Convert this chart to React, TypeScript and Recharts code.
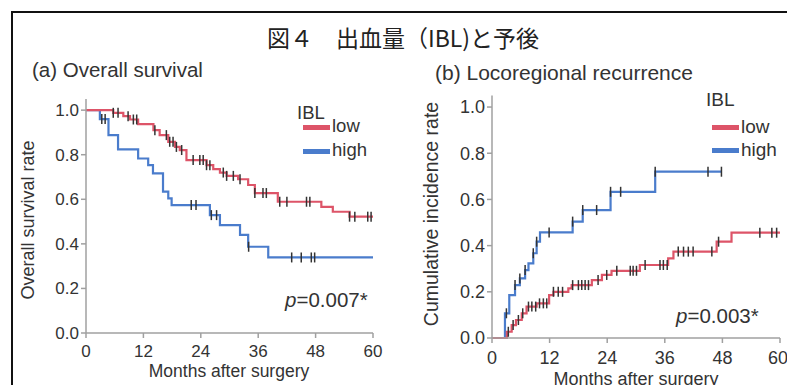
import { ComposedChart, Line, Scatter, XAxis, YAxis } from "recharts";

// months after surgery / survival rate (step points)
const osLowT = [0, 5.7, 7.8, 9.2, 10.9, 14.1, 15.4, 17.2, 18.6, 19.6, 21, 25.2, 26.6, 28, 29.4, 31.8, 33.9, 35.3, 40.1, 49.2, 51.6, 55.1, 60];
const osLowS = [1, 0.988, 0.973, 0.958, 0.937, 0.91, 0.888, 0.858, 0.835, 0.821, 0.776, 0.753, 0.735, 0.72, 0.705, 0.69, 0.664, 0.628, 0.589, 0.566, 0.544, 0.522, 0.522];
const osHighT = [0, 2.9, 4.7, 6.7, 10.9, 13, 14, 16.1, 17.2, 17.9, 25.9, 28, 32.2, 33.9, 38.1, 60];
const osHighS = [1, 0.96, 0.888, 0.824, 0.783, 0.753, 0.716, 0.634, 0.604, 0.574, 0.529, 0.484, 0.44, 0.387, 0.339, 0.339];
const osLowCensor = [5.7, 6.7, 8.8, 9.9, 10.6, 14.4, 16.8, 17.5, 18.2, 18.9, 20, 22.4, 23.8, 24.5, 25.2, 25.9, 28.7, 29.4, 30.8, 32.2, 35.3, 37, 37.7, 40.5, 42, 46.1, 46.8, 55.1, 56.2, 58.9, 59.6];
const osHighCensor = [3.3, 4, 22, 23, 26.2, 27.3, 34, 43, 45, 47.1, 47.8];

// cumulative incidence of locoregional recurrence
const lrLowT = [0, 3.1, 4.1, 5, 6.2, 7.2, 9.3, 11.9, 12.8, 15.9, 16.6, 20.8, 22.9, 24.9, 30.8, 36.7, 37.8, 46.8, 49.9, 60];
const lrLowC = [0, 0.027, 0.056, 0.078, 0.107, 0.136, 0.15, 0.186, 0.2, 0.215, 0.229, 0.251, 0.273, 0.291, 0.316, 0.345, 0.374, 0.417, 0.456, 0.456];
const lrHighT = [0, 2.7, 3.6, 4.8, 5.8, 6.9, 7.6, 8.6, 9.3, 10, 16.8, 18.9, 24.7, 34, 47.8];
const lrHighC = [0, 0.107, 0.186, 0.229, 0.258, 0.294, 0.323, 0.367, 0.417, 0.457, 0.504, 0.554, 0.633, 0.72, 0.72];
const lrLowCensor = [3.4, 4.4, 5.5, 6.4, 7.6, 8.3, 9.1, 9.9, 10.7, 11.4, 12.8, 13.8, 14.7, 16.8, 18, 18.7, 19.4, 20.1, 22.1, 23.9, 26, 28.8, 29.4, 30.1, 31.9, 35, 35.7, 36.5, 38.8, 39.9, 40.9, 41.9, 45.8, 47.2, 55.8, 58.3, 59.3];
const lrHighCensor = [3, 4.8, 5.8, 6.9, 8.6, 9.3, 11.9, 16.8, 18.9, 21.8, 24.7, 26.8, 34, 45, 47.8];

const monthTicks = [0, 12, 24, 36, 48, 60];
const rateTicks = [0, 0.2, 0.4, 0.6, 0.8, 1.0];

const RED = "#dd5468";
const BLUE = "#4a7ccc";
const INK = "#333";
const AXIS = "#a0a0a0";
const FONT = "'Liberation Sans', Arial, sans-serif";

const toRows = (t: number[], v: number[]) => t.map((x, i) => ({ t: x, v: v[i] }));

function stepAt(t: number[], v: number[], x: number) {
  let out = v[0];
  for (let i = 0; i < t.length; i++) if (t[i] <= x) out = v[i];
  return out;
}

const censorRows = (c: number[], t: number[], v: number[]) => c.map((x) => ({ t: x, v: stepAt(t, v, x) }));

const CensorMark = (props: any) => {
  const { cx, cy } = props;
  if (cx == null || cy == null) return null;
  return <line x1={cx} x2={cx} y1={cy - 5} y2={cy + 5} stroke={INK} strokeWidth={1.5} />;
};

function KMPanel({
  width,
  yAxisWidth,
  marginTop,
  marginRight,
  xAxisHeight,
  tickMargin,
  fontSize,
  low,
  high,
  lowCensor,
  highCensor,
}: {
  width: number;
  yAxisWidth: number;
  marginTop: number;
  marginRight: number;
  xAxisHeight: number;
  tickMargin: number;
  fontSize: number;
  low: { t: number; v: number }[];
  high: { t: number; v: number }[];
  lowCensor: { t: number; v: number }[];
  highCensor: { t: number; v: number }[];
}) {
  const tickStyle = { fill: INK, fontSize, fontFamily: FONT };
  return (
    <ComposedChart width={width} height={385} margin={{ top: marginTop, right: marginRight, bottom: 0, left: 0 }}>
      <XAxis
        dataKey="t"
        type="number"
        domain={[0, 60]}
        ticks={monthTicks}
        allowDuplicatedCategory={false}
        stroke={AXIS}
        strokeWidth={1.5}
        tickSize={5}
        tickMargin={tickMargin}
        height={xAxisHeight}
        tick={tickStyle}
      />
      <YAxis
        type="number"
        domain={[0, 1.05]}
        ticks={rateTicks}
        tickFormatter={(v: number) => v.toFixed(1)}
        stroke={AXIS}
        strokeWidth={1.5}
        tickSize={5}
        tickMargin={2}
        width={yAxisWidth}
        tick={tickStyle}
      />
      <Line data={high} dataKey="v" type="stepAfter" stroke={BLUE} strokeWidth={2.2} dot={false} isAnimationActive={false} />
      <Line data={low} dataKey="v" type="stepAfter" stroke={RED} strokeWidth={2.2} dot={false} isAnimationActive={false} />
      <Scatter data={highCensor} dataKey="v" shape={CensorMark} isAnimationActive={false} />
      <Scatter data={lowCensor} dataKey="v" shape={CensorMark} isAnimationActive={false} />
    </ComposedChart>
  );
}

const abs = (left: number, top: number, extra: any = {}) => ({
  position: "absolute" as const,
  left,
  top,
  whiteSpace: "nowrap" as const,
  color: INK,
  fontFamily: FONT,
  lineHeight: 1,
  ...extra,
});

function Legend({ left, titleTop, lowY, highY, size }: { left: number; titleTop: number; lowY: number; highY: number; size: number }) {
  const half = size * 0.55;
  return (
    <>
      <div style={abs(left, titleTop, { fontSize: size })}>IBL</div>
      <div style={abs(left + 6, lowY - 2.5, { width: 27, height: 5, background: RED })} />
      <div style={abs(left + 35, lowY - half, { fontSize: size })}>low</div>
      <div style={abs(left + 6, highY - 2.5, { width: 27, height: 5, background: BLUE })} />
      <div style={abs(left + 35, highY - half, { fontSize: size })}>high</div>
    </>
  );
}

export default function App() {
  return (
    <div style={{ position: "absolute", left: 0, top: 0, width: 787, height: 385, overflow: "hidden", background: "#fff" }}>
      <div style={{ position: "absolute", left: 11, top: 11, width: 800, height: 400, border: "2px solid #111" }} />
      <div
        style={abs(403, 37, {
          transform: "translate(-50%, -50%)",
          fontFamily: "'Noto Sans CJK JP', sans-serif",
          fontSize: 23,
          color: "#222",
        })}
      >
        図４　出血量（IBL)と予後
      </div>

      <div style={{ position: "absolute", left: 0, top: 0 }}>
        <KMPanel
          width={400}
          yAxisWidth={86}
          marginTop={99}
          marginRight={27}
          xAxisHeight={52}
          tickMargin={7}
          fontSize={17}
          low={toRows(osLowT, osLowS)}
          high={toRows(osHighT, osHighS)}
          lowCensor={censorRows(osLowCensor, osLowT, osLowS)}
          highCensor={censorRows(osHighCensor, osHighT, osHighS)}
        />
      </div>
      <div style={{ position: "absolute", left: 390, top: 0 }}>
        <KMPanel
          width={397}
          yAxisWidth={102}
          marginTop={95.5}
          marginRight={7}
          xAxisHeight={47}
          tickMargin={8}
          fontSize={18}
          low={toRows(lrLowT, lrLowC)}
          high={toRows(lrHighT, lrHighC)}
          lowCensor={censorRows(lrLowCensor, lrLowT, lrLowC)}
          highCensor={censorRows(lrHighCensor, lrHighT, lrHighC)}
        />
      </div>

      <div style={abs(32, 60, { fontSize: 20.5 })}>(a) Overall survival</div>
      <div style={abs(435, 62, { fontSize: 21 })}>(b) Locoregional recurrence</div>

      <div style={abs(28, 220, { fontSize: 18, transform: "translate(-50%, -50%) rotate(-90deg)" })}>Overall survival rate</div>
      <div style={abs(432, 214, { fontSize: 19.5, transform: "translate(-50%, -50%) rotate(-90deg)" })}>
        Cumulative incidence rate
      </div>
      <div style={abs(229, 372, { fontSize: 17.5, transform: "translate(-50%, -50%)" })}>Months after surgery</div>
      <div style={abs(636, 379, { fontSize: 18, transform: "translate(-50%, -50%)" })}>Months after surgery</div>

      <Legend left={297} titleTop={104} lowY={127} highY={151} size={18.5} />
      <Legend left={706} titleTop={90} lowY={127} highY={150} size={19} />

      <div style={abs(285, 290, { fontSize: 20.5 })}>
        <i>p</i>=0.007*
      </div>
      <div style={abs(676, 306, { fontSize: 20.5 })}>
        <i>p</i>=0.003*
      </div>
    </div>
  );
}
